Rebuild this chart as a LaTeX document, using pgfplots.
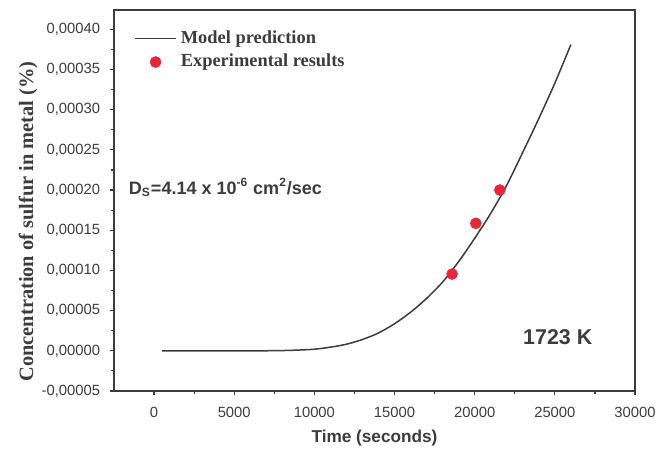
\documentclass[border=0pt]{standalone}
\usepackage{fontspec}
\setmainfont{Liberation Sans}
\newfontfamily\timesf{Liberation Serif}
\usepackage{pgfplots}
\pgfplotsset{compat=1.18}
\definecolor{dotred}{RGB}{232,38,58}
\definecolor{axgray}{RGB}{60,60,60}
\pgfplotsset{
  mylineleg/.style={legend image code/.code={\draw[##1] (0cm,0cm) -- (0.72cm,0cm);}},
  mymarkleg/.style={legend image code/.code={\draw[mark repeat=2,mark phase=2,##1] plot coordinates {(0cm,0cm) (0.36cm,0cm) (0.72cm,0cm)};}},
}
\begin{document}
\begin{tikzpicture}
\begin{axis}[
  scale only axis,
  width=260.5pt, height=190.5pt,
  xmin=-2500, xmax=30000,
  ymin=-0.00005, ymax=0.000424,
  axis line style={axgray, line width=0.8pt},
  tick align=outside, tick pos=left,
  major tick length=2.2pt, minor tick length=1.5pt,
  every tick/.style={axgray, line width=0.6pt},
  xtick={0,5000,10000,15000,20000,25000,30000},
  xticklabels={0,5000,10000,15000,20000,25000,30000},
  ytick={-0.00005,0,0.00005,0.0001,0.00015,0.0002,0.00025,0.0003,0.00035,0.0004},
  yticklabels={{-0,00005},{0,00000},{0,00005},{0,00010},{0,00015},{0,00020},{0,00025},{0,00030},{0,00035},{0,00040}},
  minor x tick num=1, minor y tick num=1,
  scaled x ticks=false, scaled y ticks=false,
  tick label style={font=\fontsize{7.4}{9}\selectfont, text=axgray},
  yticklabel style={xshift=-1.2pt},
  xticklabel style={yshift=-2.2pt},
  xlabel={Time (seconds)},
  ylabel={Concentration of sulfur in metal (\%)},
  xlabel style={font=\bfseries\fontsize{8.6}{10}\selectfont, text=axgray,
    at={(rel axis cs:0.5,0)}, anchor=center, yshift=-23.5pt},
  ylabel style={font=\timesf\bfseries\fontsize{10.2}{12}\selectfont, text=axgray,
    at={(axis description cs:-0.165,0.445)}, anchor=center},
  legend style={draw=none, fill=none, inner sep=0pt, at={(rel axis cs:0,1)}, anchor=north west,
    xshift=10pt, yshift=-8pt,
    font=\timesf\bfseries\fontsize{9.2}{11}\selectfont, text=axgray, row sep=0pt},
  legend cell align=left,
]
\addplot[axgray, line width=0.75pt, smooth, mylineleg]
coordinates {
(500,0) (2000,0) (4000,0) (6000,0) (7000,0.00000005) (8000,0.0000003)
(9000,0.0000009) (10000,0.0000020) (11000,0.0000045) (12000,0.0000082)
(13000,0.0000141) (14000,0.0000222) (15000,0.0000337) (16000,0.0000480)
(17000,0.0000652) (18000,0.0000856) (19000,0.0001110) (20000,0.0001400)
(21000,0.0001710) (22000,0.0002060) (23000,0.0002470) (24000,0.0002890)
(25000,0.0003330) (26000,0.0003810)
};
\addlegendentry{Model prediction}
\addplot[only marks, mark=*, mark size=2.7pt, color=dotred, mark options={draw=dotred, fill=dotred}, mymarkleg]
coordinates {
(18590,0.0000955) (20070,0.0001586) (21570,0.0002000)
};
\addlegendentry{Experimental results}
\node[anchor=west, font=\bfseries\fontsize{9}{10}\selectfont, text=axgray, inner sep=0pt]
  at (axis cs:-1590,0.000203) {D\textsubscript{S}=4.14 x 10\textsuperscript{-6} cm\textsuperscript{2}/sec};
\node[font=\bfseries\fontsize{10.7}{12}\selectfont, text=axgray, inner sep=0pt]
  at (axis cs:25180,0.000017) {1723 K};
\coordinate (sw) at (rel axis cs:0,0);
\coordinate (ne) at (rel axis cs:1,1);
\end{axis}
\pgfresetboundingbox
\path ([xshift=-57pt,yshift=-31pt]sw) rectangle ([xshift=12pt,yshift=5pt]ne);
\end{tikzpicture}
\end{document}
